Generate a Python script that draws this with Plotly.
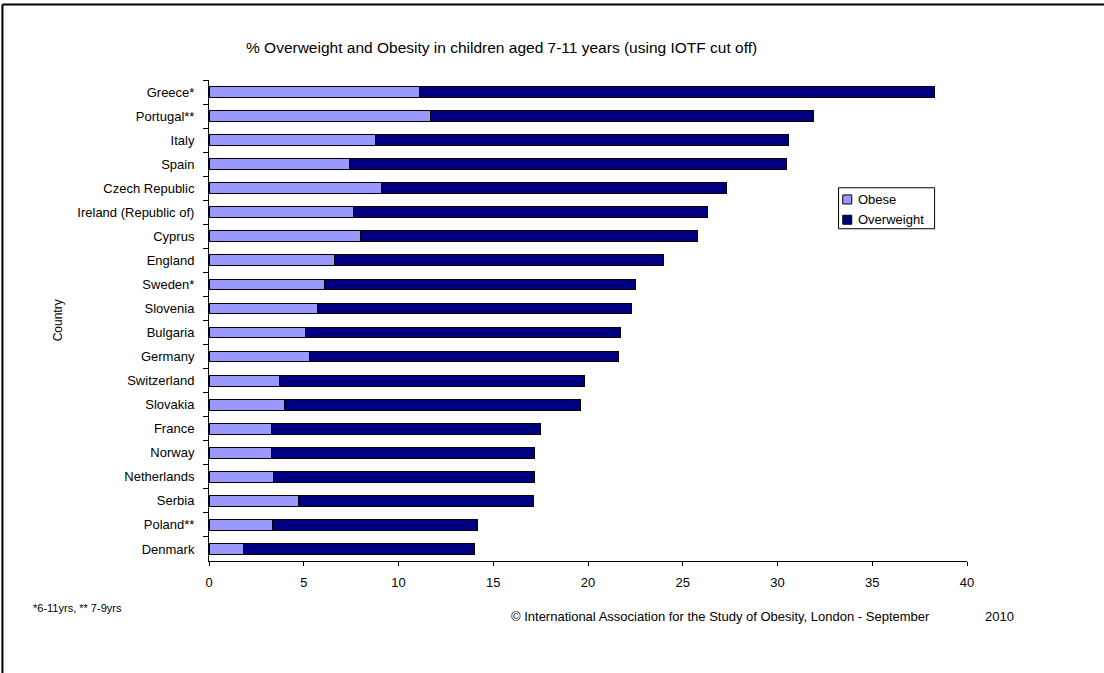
import plotly.graph_objects as go

# Countries, top to bottom
countries = [
    "Greece*", "Portugal**", "Italy", "Spain", "Czech Republic",
    "Ireland (Republic of)", "Cyprus", "England", "Sweden*", "Slovenia",
    "Bulgaria", "Germany", "Switzerland", "Slovakia", "France",
    "Norway", "Netherlands", "Serbia", "Poland**", "Denmark",
]

# % obese
obese = [11.1, 11.7, 8.8, 7.4, 9.1, 7.6, 8.0, 6.6, 6.1, 5.7,
         5.1, 5.3, 3.7, 4.0, 3.3, 3.3, 3.4, 4.7, 3.35, 1.8]

# % overweight (not obese), stacked after the obese share
overweight = [27.2, 20.2, 21.8, 23.1, 18.2, 18.7, 17.8, 17.4, 16.4, 16.6,
              16.6, 16.3, 16.1, 15.6, 14.2, 13.9, 13.8, 12.45, 10.8, 12.2]

x_ticks = [0, 5, 10, 15, 20, 25, 30, 35, 40]

FONT = "Liberation Sans, Arial, sans-serif"
W, H = 1104, 673
L, R, T, B = 209, 137.3, 79.5, 112.3
PW, PH = W - L - R, H - T - B


def px_x(px):
    return (px - L) / PW


def px_y(py):
    return (H - B - py) / PH


fig = go.Figure()
fig.add_trace(go.Bar(
    y=countries, x=obese, name="Obese", orientation="h",
    marker=dict(color="#9999FF", line=dict(color="#000000", width=1)),
    width=0.45,
))
fig.add_trace(go.Bar(
    y=countries, x=overweight, name="Overweight", orientation="h",
    marker=dict(color="#000080", line=dict(color="#000000", width=1)),
    width=0.45,
))

fig.update_layout(
    width=W, height=H,
    margin=dict(l=L, r=R, t=T, b=B),
    barmode="stack",
    plot_bgcolor="white", paper_bgcolor="white",
    showlegend=False,
    font=dict(family=FONT, size=13, color="#000000"),
    xaxis=dict(
        range=[0, 40], tickvals=x_ticks, ticktext=[str(v) for v in x_ticks],
        showgrid=False, zeroline=False,
        showline=True, linecolor="#000000", linewidth=1,
        ticks="outside", ticklen=4, tickcolor="#000000",
        tickfont=dict(family=FONT, size=13),
        ticklabelstandoff=5,
        fixedrange=True,
    ),
    yaxis=dict(
        type="category", categoryorder="array", categoryarray=countries,
        autorange="reversed",
        showgrid=False, zeroline=False,
        showline=True, linecolor="#000000", linewidth=1,
        ticks="outside", ticklen=5, tickcolor="#000000", tickson="boundaries",
        tickfont=dict(family=FONT, size=13),
        ticklabelstandoff=11,
        fixedrange=True,
    ),
)

# Chart title
fig.add_annotation(
    x=px_x(501), y=px_y(46.7), xref="paper", yref="paper",
    text="% Overweight and Obesity in children aged 7-11 years (using IOTF cut off)",
    showarrow=False, font=dict(family=FONT, size=15.5), xanchor="center", yanchor="middle",
)

# Axis title
fig.add_annotation(
    x=px_x(58), y=px_y(320), xref="paper", yref="paper",
    text="Country", textangle=-90, showarrow=False,
    font=dict(family=FONT, size=12), xanchor="center", yanchor="middle",
)

# Footnotes
fig.add_annotation(
    x=px_x(31), y=px_y(608), xref="paper", yref="paper",
    text="*6-11yrs, ** 7-9yrs", showarrow=False,
    font=dict(family=FONT, size=11), xanchor="left", yanchor="middle",
)
fig.add_annotation(
    x=px_x(509), y=px_y(616), xref="paper", yref="paper",
    text="© International Association for the Study of Obesity, London - September",
    showarrow=False, font=dict(family=FONT, size=13), xanchor="left", yanchor="middle",
)
fig.add_annotation(
    x=px_x(983), y=px_y(616), xref="paper", yref="paper",
    text="2010", showarrow=False, font=dict(family=FONT, size=13),
    xanchor="left", yanchor="middle",
)

# Legend box with swatches
shapes = [
    dict(type="rect", xref="paper", yref="paper",
         x0=px_x(838.3), x1=px_x(934.3), y0=px_y(228.3), y1=px_y(187.3),
         line=dict(color="#000000", width=1), fillcolor="white"),
]
legend_items = [("Obese", "#9999FF", 199), ("Overweight", "#000080", 219.3)]
for label, color, yc in legend_items:
    shapes.append(dict(type="rect", xref="paper", yref="paper",
                       x0=px_x(842.5), x1=px_x(851.5), y0=px_y(yc + 4.5), y1=px_y(yc - 4.5),
                       line=dict(color="#000000", width=1), fillcolor=color))
    fig.add_annotation(x=px_x(856), y=px_y(yc), xref="paper", yref="paper",
                       text=label, showarrow=False, font=dict(family=FONT, size=13),
                       xanchor="left", yanchor="middle")

# Outer frame (top and left edges visible)
shapes.append(dict(type="line", xref="paper", yref="paper",
                   x0=px_x(2.5), x1=px_x(1110), y0=px_y(4), y1=px_y(4),
                   line=dict(color="#000000", width=2)))
shapes.append(dict(type="line", xref="paper", yref="paper",
                   x0=px_x(2.5), x1=px_x(2.5), y0=px_y(4), y1=px_y(680),
                   line=dict(color="#000000", width=2)))
fig.update_layout(shapes=shapes)

fig.write_html("out.html")
